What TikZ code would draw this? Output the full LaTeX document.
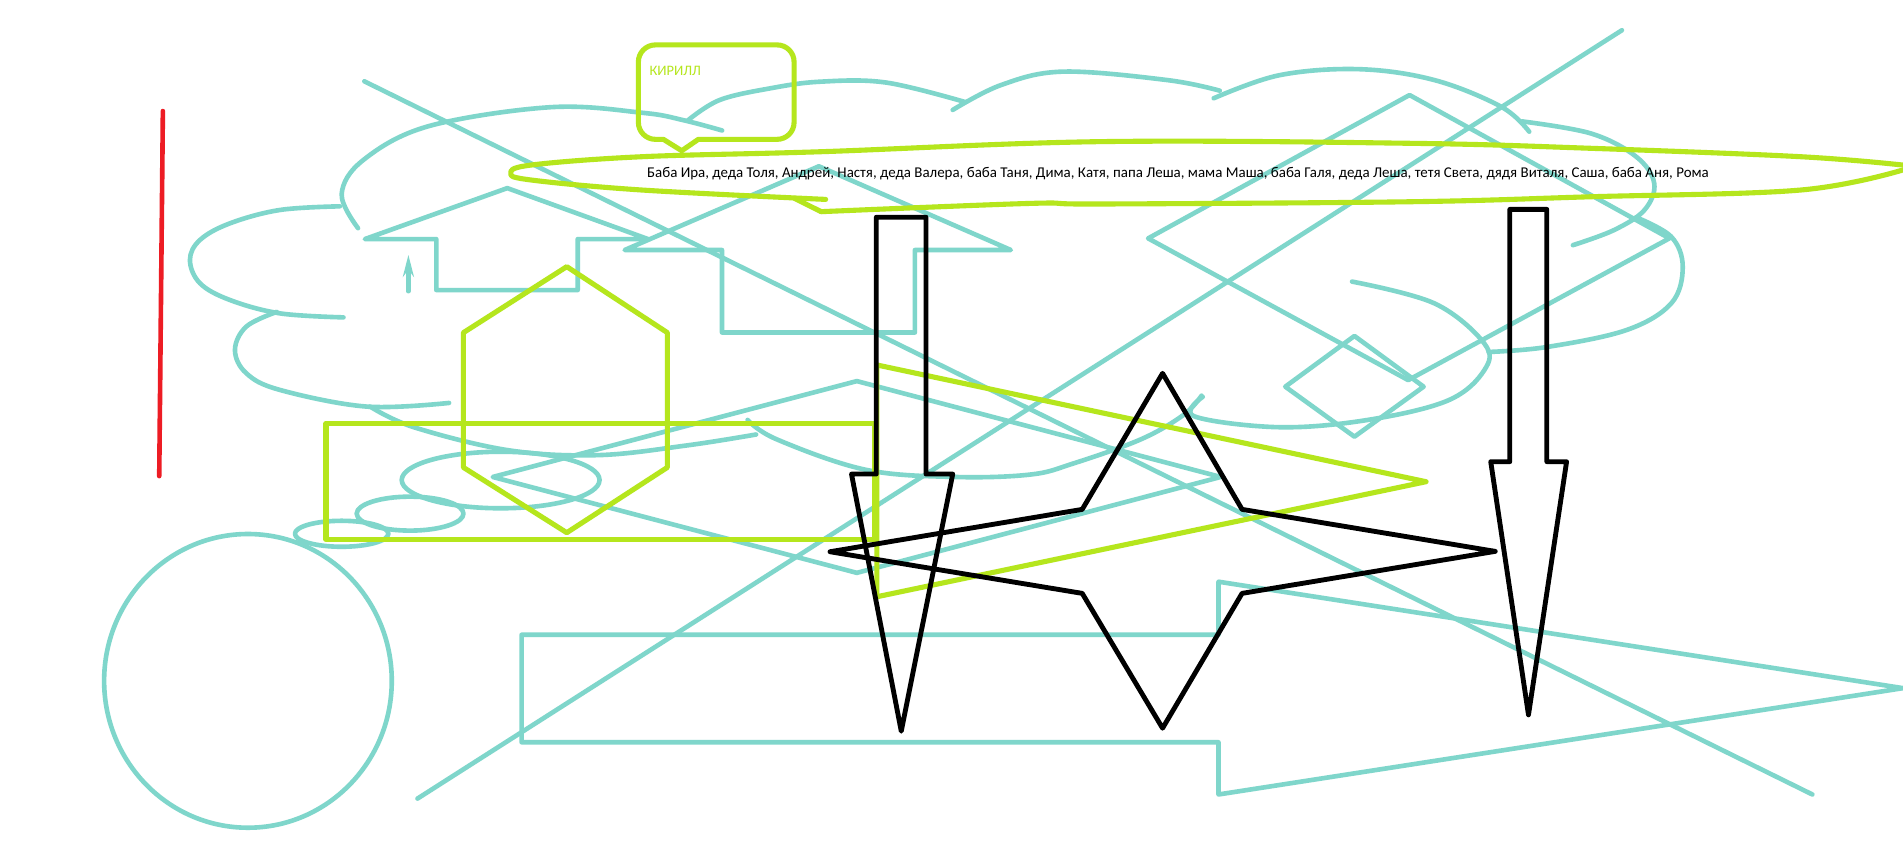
\documentclass[tikz,border=0pt]{standalone}
\usepackage{fontspec}
\setmainfont{Carlito}
\usetikzlibrary{arrows.meta}
\definecolor{paintteal}{RGB}{127,214,203}
\definecolor{paintlime}{RGB}{181,230,29}
\definecolor{paintred}{RGB}{237,28,36}
\tikzset{
sketch/.style={
	line width=3.8pt,
	line cap=round,
	line join=round,
},
tealline/.style={
	sketch,
	draw=paintteal,
},
limeline/.style={
	sketch,
	draw=paintlime,
	line width=4.2pt,
},
blackline/.style={
	sketch,
	draw=black,
	line width=4pt,
},
redline/.style={
	sketch,
	draw=paintred,
	line width=3.8pt,
},
freehand/.style={
	smooth,
	tension=0.6,
},
namelist/.style={
	inner sep=0pt,
	anchor=west,
	font=\fontsize{12.3pt}{14pt}\selectfont,
},
}

\begin{document}
\begin{tikzpicture}[x=1pt, y=-1pt]
		\fill[white] (0,0) rectangle (1568,710);
		\useasboundingbox (0,0) rectangle (1568,710);

		% Red stroke
		\draw[redline] (134.2,91.5) -- (131.2,392.3);

		% Cloud
		\draw[tealline] plot[freehand] coordinates {(295,188) (281.5,160) (299.4,131.8) (353,104) (454,88.3) (530,93) (563,99) (595,107.5)};
		\draw[tealline] plot[freehand] coordinates {(567,99) (593,82.4) (634.5,72.8) (676,67.3) (730,68) (795,84)};
		\draw[tealline] plot[freehand] coordinates {(785,90.6) (825,70) (876,59) (962,66) (1005,74.7)};
		\draw[tealline] plot[freehand] coordinates {(1000,81) (1054,62) (1120,57) (1182,66) (1237,88) (1260,108.5)};
		\draw[tealline] plot[freehand] coordinates {(1254,100) (1311,110) (1348,129) (1363,151) (1355,173) (1330,189.5) (1296,202)};
		\draw[tealline] plot[freehand] coordinates {(1348,179) (1377,195) (1386.5,220) (1377,250) (1340,272) (1274,286) (1226.5,290)};
		\draw[tealline] plot[freehand] coordinates {(1114,232) (1182,250) (1223,283) (1223,305) (1193,330) (1127,346) (1054,352) (984,343) (991,327)};
		\draw[tealline] plot[freehand] coordinates {(616,346) (640,362) (713,387) (787,393) (849,391) (884,382) (940,362) (975,342) (990,326)};
		\draw[tealline] plot[freehand] coordinates {(305,335) (341,352) (419,371) (493,375) (566,367) (623,358)};
		\draw[tealline] plot[freehand] coordinates {(228,257) (203,269) (193.6,288.4) (203,307.6) (230.7,321.3) (302,335) (370,332)};
		\draw[tealline] plot[freehand] coordinates {(280,170) (230.7,173) (189.5,184) (164.8,197.7) (156.5,214.2) (164.8,233.4) (189.5,247.2) (230.7,258.2) (283,261.5)};

		% Small ellipses and circle
		\draw[tealline] (412.5,395.5) ellipse [x radius=81.5, y radius=23.3];
		\draw[tealline] (337.9,423.2) ellipse [x radius=44, y radius=14];
		\draw[tealline] (281.5,439.8) ellipse [x radius=38.5, y radius=10.7];
		\draw[tealline] (204.3,561) ellipse [x radius=118.5, y radius=121];

		% Up arrows
		\draw[tealline] (300.6,197) -- (418,155) -- (534,197) -- (476,197) -- (476,239) -- (359.5,239) -- (359.5,197) -- cycle;
		\draw[tealline] (514.7,206) -- (674.7,137) -- (832.9,206) -- (753.8,206) -- (753.8,274) -- (594.9,274) -- (594.9,206) -- cycle;
		\draw[tealline, line width=3.6pt, -{Stealth[length=18pt, width=9pt]}] (336.5,240) -- (336.5,210);

		% Diamonds
		\draw[tealline] (406,393) -- (706,314) -- (1005.8,393) -- (706,472) -- cycle;
		\draw[tealline] (946,196.4) -- (1161.4,78.3) -- (1375.5,196.4) -- (1160.3,313.2) -- cycle;
		\draw[tealline] (1059,318.6) -- (1116,276.8) -- (1173,318.6) -- (1116,359.8) -- cycle;

		% Right arrow outline
		\draw[tealline] (429.8,523) -- (1004,523) -- (1004,479.3) -- (1568,567) -- (1004,654.6) -- (1004,611.6) -- (429.8,611.6) -- cycle;

		% Long strokes
		\draw[tealline] (344,658) -- (1336.4,24.9);
		\draw[tealline] (300.2,67) -- (1493.3,654.6);

		% Speech bubble
		\draw[limeline] (546.6,114.8) -- (561.7,124.2) -- (575.4,114.8) [rounded corners=14pt] -- (654.3,114.8) -- (654.3,37) -- (526,37) -- (526,114.8) [sharp corners] -- cycle;
		\node[namelist, text=paintlime, font=\fontsize{11.9pt}{14pt}\selectfont] (kirill) at (535,58.3) {КИРИЛЛ};

		% Long ellipse
		\draw[limeline] plot[freehand] coordinates {(680.3,164.3) (529.4,156.6) (437.5,148.3) (420.9,142.8) (437.5,136) (529.4,129.1) (676.6,125) (906.4,116.7) (1163.9,118.1) (1311.1,122.2) (1483.3,129.1) (1568,136)};
		\draw[limeline] (654.5,163.4) -- (676.6,174.4);
		\draw[limeline] plot[freehand] coordinates {(676.6,174.4) (848.8,167.6) (906.4,168.1) (1163.9,166.2) (1311.1,162.1) (1483.3,156.6) (1568,140)};

		% Hexagon, box, triangle
		\draw[limeline] (467,219.7) -- (549.9,274.1) -- (549.9,385.1) -- (467,438.9) -- (381.8,385.1) -- (381.8,274.1) -- cycle;
		\draw[limeline] (268.6,348.8) rectangle (720.7,444.4);
		\draw[limeline] (722.5,300.7) -- (1175,396.9) -- (722.5,491.7) -- cycle;

		% Black arrows
		\draw[blackline] (722,179) -- (763,179) -- (763,390.6) -- (785,390.6) -- (742.6,602.5) -- (701.6,390.6) -- (722,390.6) -- cycle;
		\draw[blackline] (1244,172.5) -- (1274.5,172.5) -- (1274.5,380.4) -- (1290.8,380.4) -- (1259.4,589) -- (1228.3,380.4) -- (1244,380.4) -- cycle;

		% Star
		\draw[blackline] (957.9,307.6) -- (1023.4,419.7) -- (1232,454.3) -- (1023.4,488.9) -- (957.9,600) -- (891.7,488.9) -- (683.9,454.6) -- (891.7,419.7) -- cycle;

		% Names
		\node[namelist] (family) at (533,143.4) {Баба Ира, деда Толя, Андрей, Настя, деда Валера, баба Таня, Дима, Катя, папа Леша,  мама Маша, баба Галя, деда Леша, тетя Света, дядя Виталя, Саша, баба Аня, Рома};
\end{tikzpicture}
\end{document}
